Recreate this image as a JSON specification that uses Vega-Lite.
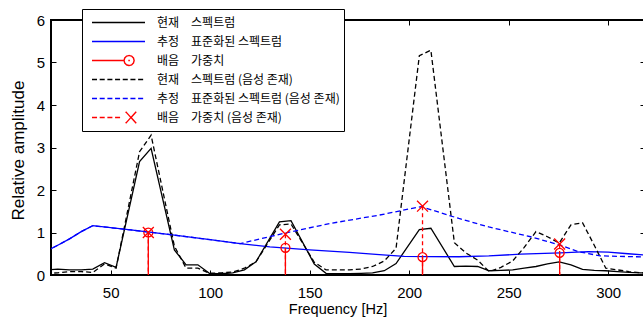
{
  "$schema": "https://vega.github.io/schema/vega-lite/v6.json",
  "width": 594,
  "height": 255,
  "autosize": {"type": "none"},
  "padding": {"left": 51, "top": 20, "right": 0, "bottom": 47},
  "background": "white",
  "config": {"view": {"stroke": "black", "strokeWidth": 2}, "font": "Liberation Sans"},
  "datasets": {
    "lines": [
      {"s": "현재\u3000스펙트럼", "f": 17.6, "v": 0.12}, {"s": "현재\u3000스펙트럼", "f": 23.4, "v": 0.14}, {"s": "현재\u3000스펙트럼", "f": 29.3, "v": 0.12}, {"s": "현재\u3000스펙트럼", "f": 35.2, "v": 0.12}, {"s": "현재\u3000스펙트럼", "f": 41.0, "v": 0.14}, {"s": "현재\u3000스펙트럼", "f": 46.9, "v": 0.29}, {"s": "현재\u3000스펙트럼", "f": 52.7, "v": 0.18}, {"s": "현재\u3000스펙트럼", "f": 64.5, "v": 2.67}, {"s": "현재\u3000스펙트럼", "f": 70.3, "v": 2.98}, {"s": "현재\u3000스펙트럼", "f": 82.0, "v": 0.59}, {"s": "현재\u3000스펙트럼", "f": 87.9, "v": 0.24}, {"s": "현재\u3000스펙트럼", "f": 93.8, "v": 0.24}, {"s": "현재\u3000스펙트럼", "f": 99.6, "v": 0.04}, {"s": "현재\u3000스펙트럼", "f": 105.5, "v": 0.03}, {"s": "현재\u3000스펙트럼", "f": 111.3, "v": 0.05}, {"s": "현재\u3000스펙트럼", "f": 117.2, "v": 0.12}, {"s": "현재\u3000스펙트럼", "f": 123.0, "v": 0.31}, {"s": "현재\u3000스펙트럼", "f": 134.8, "v": 1.25}, {"s": "현재\u3000스펙트럼", "f": 140.6, "v": 1.28}, {"s": "현재\u3000스펙트럼", "f": 152.3, "v": 0.26}, {"s": "현재\u3000스펙트럼", "f": 158.2, "v": 0.04}, {"s": "현재\u3000스펙트럼", "f": 164.1, "v": 0.03}, {"s": "현재\u3000스펙트럼", "f": 170.0, "v": 0.03}, {"s": "현재\u3000스펙트럼", "f": 175.8, "v": 0.04}, {"s": "현재\u3000스펙트럼", "f": 181.6, "v": 0.05}, {"s": "현재\u3000스펙트럼", "f": 187.5, "v": 0.1}, {"s": "현재\u3000스펙트럼", "f": 193.4, "v": 0.27}, {"s": "현재\u3000스펙트럼", "f": 205.1, "v": 1.07}, {"s": "현재\u3000스펙트럼", "f": 210.9, "v": 1.1}, {"s": "현재\u3000스펙트럼", "f": 222.7, "v": 0.2}, {"s": "현재\u3000스펙트럼", "f": 228.5, "v": 0.21}, {"s": "현재\u3000스펙트럼", "f": 234.4, "v": 0.2}, {"s": "현재\u3000스펙트럼", "f": 240.2, "v": 0.1}, {"s": "현재\u3000스펙트럼", "f": 246.1, "v": 0.11}, {"s": "현재\u3000스펙트럼", "f": 252.0, "v": 0.12}, {"s": "현재\u3000스펙트럼", "f": 257.8, "v": 0.16}, {"s": "현재\u3000스펙트럼", "f": 263.7, "v": 0.2}, {"s": "현재\u3000스펙트럼", "f": 269.5, "v": 0.26}, {"s": "현재\u3000스펙트럼", "f": 275.4, "v": 0.31}, {"s": "현재\u3000스펙트럼", "f": 281.3, "v": 0.24}, {"s": "현재\u3000스펙트럼", "f": 287.1, "v": 0.13}, {"s": "현재\u3000스펙트럼", "f": 293.0, "v": 0.11}, {"s": "현재\u3000스펙트럼", "f": 298.8, "v": 0.1}, {"s": "현재\u3000스펙트럼", "f": 304.7, "v": 0.08}, {"s": "현재\u3000스펙트럼", "f": 310.5, "v": 0.06}, {"s": "현재\u3000스펙트럼", "f": 316.4, "v": 0.05}, {"s": "현재\u3000스펙트럼", "f": 322.3, "v": 0.04},

      {"s": "추정\u3000표준화된 스펙트럼", "f": 17.6, "v": 0.56}, {"s": "추정\u3000표준화된 스펙트럼", "f": 23.4, "v": 0.7}, {"s": "추정\u3000표준화된 스펙트럼", "f": 29.3, "v": 0.85}, {"s": "추정\u3000표준화된 스펙트럼", "f": 35.2, "v": 1.02}, {"s": "추정\u3000표준화된 스펙트럼", "f": 41.0, "v": 1.16}, {"s": "추정\u3000표준화된 스펙트럼", "f": 60, "v": 1.06}, {"s": "추정\u3000표준화된 스펙트럼", "f": 80, "v": 0.95}, {"s": "추정\u3000표준화된 스펙트럼", "f": 100, "v": 0.83}, {"s": "추정\u3000표준화된 스펙트럼", "f": 115, "v": 0.74}, {"s": "추정\u3000표준화된 스펙트럼", "f": 130, "v": 0.66}, {"s": "추정\u3000표준화된 스펙트럼", "f": 150, "v": 0.59}, {"s": "추정\u3000표준화된 스펙트럼", "f": 170, "v": 0.53}, {"s": "추정\u3000표준화된 스펙트럼", "f": 185, "v": 0.48}, {"s": "추정\u3000표준화된 스펙트럼", "f": 197.5, "v": 0.44}, {"s": "추정\u3000표준화된 스펙트럼", "f": 210, "v": 0.43}, {"s": "추정\u3000표준화된 스펙트럼", "f": 225, "v": 0.43}, {"s": "추정\u3000표준화된 스펙트럼", "f": 240, "v": 0.45}, {"s": "추정\u3000표준화된 스펙트럼", "f": 256, "v": 0.49}, {"s": "추정\u3000표준화된 스펙트럼", "f": 276, "v": 0.52}, {"s": "추정\u3000표준화된 스펙트럼", "f": 290, "v": 0.55}, {"s": "추정\u3000표준화된 스펙트럼", "f": 300, "v": 0.54}, {"s": "추정\u3000표준화된 스펙트럼", "f": 310, "v": 0.5}, {"s": "추정\u3000표준화된 스펙트럼", "f": 322, "v": 0.46},

      {"s": "현재\u3000스펙트럼 (음성 존재)", "f": 17.6, "v": 0.04}, {"s": "현재\u3000스펙트럼 (음성 존재)", "f": 23.4, "v": 0.05}, {"s": "현재\u3000스펙트럼 (음성 존재)", "f": 29.3, "v": 0.08}, {"s": "현재\u3000스펙트럼 (음성 존재)", "f": 35.2, "v": 0.08}, {"s": "현재\u3000스펙트럼 (음성 존재)", "f": 41.0, "v": 0.06}, {"s": "현재\u3000스펙트럼 (음성 존재)", "f": 46.9, "v": 0.26}, {"s": "현재\u3000스펙트럼 (음성 존재)", "f": 52.7, "v": 0.16}, {"s": "현재\u3000스펙트럼 (음성 존재)", "f": 64.5, "v": 2.9}, {"s": "현재\u3000스펙트럼 (음성 존재)", "f": 70.3, "v": 3.29}, {"s": "현재\u3000스펙트럼 (음성 존재)", "f": 82.0, "v": 0.68}, {"s": "현재\u3000스펙트럼 (음성 존재)", "f": 87.9, "v": 0.16}, {"s": "현재\u3000스펙트럼 (음성 존재)", "f": 93.8, "v": 0.16}, {"s": "현재\u3000스펙트럼 (음성 존재)", "f": 99.6, "v": 0.04}, {"s": "현재\u3000스펙트럼 (음성 존재)", "f": 105.5, "v": 0.05}, {"s": "현재\u3000스펙트럼 (음성 존재)", "f": 111.3, "v": 0.07}, {"s": "현재\u3000스펙트럼 (음성 존재)", "f": 117.2, "v": 0.16}, {"s": "현재\u3000스펙트럼 (음성 존재)", "f": 123.0, "v": 0.31}, {"s": "현재\u3000스펙트럼 (음성 존재)", "f": 134.8, "v": 1.18}, {"s": "현재\u3000스펙트럼 (음성 존재)", "f": 140.6, "v": 1.2}, {"s": "현재\u3000스펙트럼 (음성 존재)", "f": 152.3, "v": 0.3}, {"s": "현재\u3000스펙트럼 (음성 존재)", "f": 158.2, "v": 0.12}, {"s": "현재\u3000스펙트럼 (음성 존재)", "f": 164.1, "v": 0.12}, {"s": "현재\u3000스펙트럼 (음성 존재)", "f": 170.0, "v": 0.12}, {"s": "현재\u3000스펙트럼 (음성 존재)", "f": 175.8, "v": 0.14}, {"s": "현재\u3000스펙트럼 (음성 존재)", "f": 181.6, "v": 0.2}, {"s": "현재\u3000스펙트럼 (음성 존재)", "f": 187.5, "v": 0.33}, {"s": "현재\u3000스펙트럼 (음성 존재)", "f": 193.4, "v": 0.63}, {"s": "현재\u3000스펙트럼 (음성 존재)", "f": 205.1, "v": 5.16}, {"s": "현재\u3000스펙트럼 (음성 존재)", "f": 210.9, "v": 5.29}, {"s": "현재\u3000스펙트럼 (음성 존재)", "f": 222.7, "v": 0.76}, {"s": "현재\u3000스펙트럼 (음성 존재)", "f": 228.5, "v": 0.52}, {"s": "현재\u3000스펙트럼 (음성 존재)", "f": 234.4, "v": 0.35}, {"s": "현재\u3000스펙트럼 (음성 존재)", "f": 240.2, "v": 0.08}, {"s": "현재\u3000스펙트럼 (음성 존재)", "f": 246.1, "v": 0.18}, {"s": "현재\u3000스펙트럼 (음성 존재)", "f": 252.0, "v": 0.33}, {"s": "현재\u3000스펙트럼 (음성 존재)", "f": 257.8, "v": 0.65}, {"s": "현재\u3000스펙트럼 (음성 존재)", "f": 263.7, "v": 1.02}, {"s": "현재\u3000스펙트럼 (음성 존재)", "f": 269.5, "v": 0.9}, {"s": "현재\u3000스펙트럼 (음성 존재)", "f": 275.4, "v": 0.75}, {"s": "현재\u3000스펙트럼 (음성 존재)", "f": 281.3, "v": 1.18}, {"s": "현재\u3000스펙트럼 (음성 존재)", "f": 287.1, "v": 1.23}, {"s": "현재\u3000스펙트럼 (음성 존재)", "f": 293.0, "v": 0.7}, {"s": "현재\u3000스펙트럼 (음성 존재)", "f": 298.8, "v": 0.16}, {"s": "현재\u3000스펙트럼 (음성 존재)", "f": 304.7, "v": 0.12}, {"s": "현재\u3000스펙트럼 (음성 존재)", "f": 310.5, "v": 0.08}, {"s": "현재\u3000스펙트럼 (음성 존재)", "f": 316.4, "v": 0.05}, {"s": "현재\u3000스펙트럼 (음성 존재)", "f": 322.3, "v": 0.04},

      {"s": "추정\u3000표준화된 스펙트럼 (음성 존재)", "f": 17.6, "v": 0.56}, {"s": "추정\u3000표준화된 스펙트럼 (음성 존재)", "f": 23.4, "v": 0.7}, {"s": "추정\u3000표준화된 스펙트럼 (음성 존재)", "f": 29.3, "v": 0.85}, {"s": "추정\u3000표준화된 스펙트럼 (음성 존재)", "f": 35.2, "v": 1.02}, {"s": "추정\u3000표준화된 스펙트럼 (음성 존재)", "f": 41.0, "v": 1.16}, {"s": "추정\u3000표준화된 스펙트럼 (음성 존재)", "f": 60, "v": 1.06}, {"s": "추정\u3000표준화된 스펙트럼 (음성 존재)", "f": 80, "v": 0.95}, {"s": "추정\u3000표준화된 스펙트럼 (음성 존재)", "f": 100, "v": 0.83}, {"s": "추정\u3000표준화된 스펙트럼 (음성 존재)", "f": 115, "v": 0.74}, {"s": "추정\u3000표준화된 스펙트럼 (음성 존재)", "f": 117, "v": 0.76}, {"s": "추정\u3000표준화된 스펙트럼 (음성 존재)", "f": 137, "v": 0.98}, {"s": "추정\u3000표준화된 스펙트럼 (음성 존재)", "f": 160, "v": 1.21}, {"s": "추정\u3000표준화된 스펙트럼 (음성 존재)", "f": 185, "v": 1.41}, {"s": "추정\u3000표준화된 스펙트럼 (음성 존재)", "f": 206, "v": 1.61}, {"s": "추정\u3000표준화된 스펙트럼 (음성 존재)", "f": 212, "v": 1.52}, {"s": "추정\u3000표준화된 스펙트럼 (음성 존재)", "f": 225, "v": 1.33}, {"s": "추정\u3000표준화된 스펙트럼 (음성 존재)", "f": 240, "v": 1.13}, {"s": "추정\u3000표준화된 스펙트럼 (음성 존재)", "f": 261, "v": 0.9}, {"s": "추정\u3000표준화된 스펙트럼 (음성 존재)", "f": 275.4, "v": 0.71}, {"s": "추정\u3000표준화된 스펙트럼 (음성 존재)", "f": 285, "v": 0.55}, {"s": "추정\u3000표준화된 스펙트럼 (음성 존재)", "f": 296, "v": 0.45}, {"s": "추정\u3000표준화된 스펙트럼 (음성 존재)", "f": 322, "v": 0.42}
    ],
    "w": [
      {"s": "배음\u3000가중치", "f": 68.9, "v": 1.0}, {"s": "배음\u3000가중치", "f": 137.8, "v": 0.64}, {"s": "배음\u3000가중치", "f": 206.7, "v": 0.42}, {"s": "배음\u3000가중치", "f": 275.6, "v": 0.52},
      {"s": "배음\u3000가중치 (음성 존재)", "f": 68.9, "v": 1.0}, {"s": "배음\u3000가중치 (음성 존재)", "f": 137.8, "v": 0.96}, {"s": "배음\u3000가중치 (음성 존재)", "f": 206.7, "v": 1.62}, {"s": "배음\u3000가중치 (음성 존재)", "f": 275.6, "v": 0.73}
    ]
  },
  "resolve": {"axis": {"x": "independent", "y": "independent"}},
  "layer": [
    {
      "data": {"name": "lines"},
      "transform": [{"filter": {"field": "s", "oneOf": ["현재\u3000스펙트럼", "추정\u3000표준화된 스펙트럼"]}}],
      "mark": {"type": "line", "clip": true, "strokeWidth": 1.3},
      "encoding": {
        "x": {"field": "f", "type": "quantitative", "scale": {"domain": [20, 318.5], "nice": false, "zero": false},
          "axis": {"orient": "bottom", "values": [50, 100, 150, 200, 250, 300], "tickSize": -5, "tickColor": "black", "tickWidth": 1, "labelPadding": 15, "labelFontSize": 15, "labelFont": "Liberation Sans", "labelColor": "black", "labelFlush": false, "domain": false, "grid": false,
            "title": "Frequency [Hz]", "titleFont": "Liberation Sans", "titleFontSize": 14.5, "titleFontWeight": "normal", "titleColor": "black", "titleX": 286.5, "titleY": 38, "titleBaseline": "alphabetic", "titleAlign": "center"}},
        "y": {"field": "v", "type": "quantitative", "scale": {"domain": [0, 6], "nice": false},
          "axis": {"orient": "left", "values": [0, 1, 2, 3, 4, 5, 6], "tickSize": -5, "tickColor": "black", "tickWidth": 1, "labelPadding": 11.5, "labelFontSize": 15, "labelFont": "Liberation Sans", "labelColor": "black", "labelFlush": false, "domain": false, "grid": false,
            "title": "Relative amplitude", "titleFont": "Liberation Sans", "titleFontSize": 17, "titleFontWeight": "normal", "titleColor": "black", "titleX": -33, "titleY": 130, "titleBaseline": "middle", "titleAlign": "center", "titleAngle": 270}},
        "color": {"field": "s", "type": "nominal",
          "scale": {"domain": ["현재\u3000스펙트럼", "추정\u3000표준화된 스펙트럼", "배음\u3000가중치", "현재\u3000스펙트럼 (음성 존재)", "추정\u3000표준화된 스펙트럼 (음성 존재)", "배음\u3000가중치 (음성 존재)"],
                    "range": ["#000000", "#0000ff", "#ff0000", "#000000", "#0000ff", "#ff0000"]},
          "legend": {"title": null, "orient": "none", "legendX": 31, "legendY": -11, "padding": 4, "strokeColor": "black", "fillColor": "white", "cornerRadius": 0,
            "symbolSize": 2809, "symbolStrokeWidth": 1.4, "symbolOffset": 5, "labelOffset": 11, "labelFont": "Noto Sans CJK KR", "labelFontSize": 12, "labelColor": "black", "labelLimit": 400, "labelBaseline": "middle", "clipHeight": 19, "rowPadding": 0,
            "encode": {"symbols": {"update": {
              "shape": {"signal": "['M-1,0H1','M-1,0H1','M-1,0H0.21M0.59,0L0.565,0.095L0.495,0.165L0.4,0.19L0.305,0.165L0.235,0.095L0.21,0L0.235,-0.095L0.305,-0.165L0.4,-0.19L0.495,-0.165L0.565,-0.095ZM0.37,0H0.43','M-1,0H-0.81M-0.71,0H-0.52M-0.42,0H-0.23M-0.13,0H0.06M0.16,0H0.35M0.45,0H0.64M0.74,0H0.93','M-1,0H-0.81M-0.71,0H-0.52M-0.42,0H-0.23M-0.13,0H0.06M0.16,0H0.35M0.45,0H0.64M0.74,0H0.93','M-1,0H-0.81M-0.71,0H-0.52M-0.42,0H-0.23M-0.13,0H0.06M0.27,-0.22L0.67,0.22M0.27,0.22L0.67,-0.22'][indexof(['현재\u3000스펙트럼','추정\u3000표준화된 스펙트럼','배음\u3000가중치','현재\u3000스펙트럼 (음성 존재)','추정\u3000표준화된 스펙트럼 (음성 존재)','배음\u3000가중치 (음성 존재)'], datum.value)]"},
              "stroke": {"signal": "['#000000','#0000ff','#ff0000','#000000','#0000ff','#ff0000'][indexof(['현재\u3000스펙트럼','추정\u3000표준화된 스펙트럼','배음\u3000가중치','현재\u3000스펙트럼 (음성 존재)','추정\u3000표준화된 스펙트럼 (음성 존재)','배음\u3000가중치 (음성 존재)'], datum.value)]"},
              "fill": {"value": "transparent"},
              "strokeDash": {"value": [1, 0]},
              "opacity": {"value": 1},
              "strokeWidth": {"value": 1.4}
            }}}}
        }
      }
    },
    {
      "data": {"name": "w"},
      "transform": [{"filter": {"field": "s", "equal": "배음\u3000가중치"}}],
      "mark": {"type": "rule", "clip": true, "strokeWidth": 1.3},
      "encoding": {
        "x": {"field": "f", "type": "quantitative", "axis": null},
        "y": {"field": "v", "type": "quantitative", "axis": null},
        "y2": {"datum": 0},
        "color": {"field": "s", "type": "nominal"}
      }
    },
    {
      "data": {"name": "w"},
      "transform": [{"filter": {"field": "s", "equal": "배음\u3000가중치"}}],
      "mark": {"type": "point", "shape": "circle", "filled": false, "size": 80, "strokeWidth": 1.3, "opacity": 1, "clip": true},
      "encoding": {
        "x": {"field": "f", "type": "quantitative", "axis": null},
        "y": {"field": "v", "type": "quantitative", "axis": null},
        "color": {"field": "s", "type": "nominal"}
      }
    },
    {
      "data": {"name": "lines"},
      "transform": [{"filter": {"field": "s", "oneOf": ["현재\u3000스펙트럼 (음성 존재)", "추정\u3000표준화된 스펙트럼 (음성 존재)"]}}],
      "mark": {"type": "line", "clip": true, "strokeWidth": 1.3, "strokeDash": [5, 3]},
      "encoding": {
        "x": {"field": "f", "type": "quantitative",
          "axis": {"orient": "top", "values": [50, 100, 150, 200, 250, 300], "tickSize": -5, "tickColor": "black", "tickWidth": 1, "labels": false, "domain": false, "grid": false, "title": null}},
        "y": {"field": "v", "type": "quantitative",
          "axis": {"orient": "right", "values": [0, 1, 2, 3, 4, 5, 6], "tickSize": -5, "tickColor": "black", "tickWidth": 1, "labels": false, "domain": false, "grid": false, "title": null}},
        "color": {"field": "s", "type": "nominal"}
      }
    },
    {
      "data": {"name": "w"},
      "transform": [{"filter": {"field": "s", "equal": "배음\u3000가중치 (음성 존재)"}}],
      "mark": {"type": "rule", "clip": true, "strokeWidth": 1.3, "strokeDash": [4, 3]},
      "encoding": {
        "x": {"field": "f", "type": "quantitative", "axis": null},
        "y": {"field": "v", "type": "quantitative", "axis": null},
        "y2": {"datum": 0},
        "color": {"field": "s", "type": "nominal"}
      }
    },
    {
      "data": {"name": "w"},
      "transform": [{"filter": {"field": "s", "equal": "배음\u3000가중치 (음성 존재)"}}],
      "mark": {"type": "point", "shape": "M-1,-1L1,1M-1,1L1,-1", "filled": false, "size": 120, "strokeWidth": 1.3, "opacity": 1, "clip": true},
      "encoding": {
        "x": {"field": "f", "type": "quantitative", "axis": null},
        "y": {"field": "v", "type": "quantitative", "axis": null},
        "color": {"field": "s", "type": "nominal"}
      }
    }
  ]
}
